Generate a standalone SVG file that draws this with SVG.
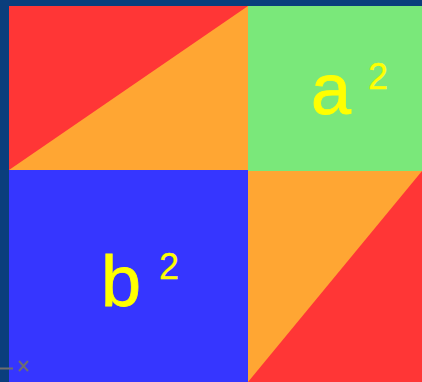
<svg xmlns="http://www.w3.org/2000/svg" width="422" height="382" viewBox="0 0 422 382">
<style>
.red{fill:#FF3636}
.orange{fill:#FFA633}
.green{fill:#7AE87A}
.blue{fill:#3636FF}
.lbl{font-family:"Liberation Sans",Arial,sans-serif;fill:#FFFF00;stroke:#FFFF00;stroke-width:0.8}
.sup{font-family:"Liberation Sans",Arial,sans-serif;fill:#FFFF00;stroke:#FFFF00;stroke-width:0.3}
</style>
<rect x="0" y="0" width="422" height="382" fill="#0A3E7C"/>
<g id="top-left">
<rect class="orange" x="9" y="6" width="239" height="164"/>
<polygon class="red" points="9,6 248,6 9,170"/>
</g>
<g id="a-square">
<rect class="green" x="248" y="6" width="174" height="165"/>
<text class="lbl" x="311" y="114" font-size="72">a</text>
<text class="sup" x="368" y="89" font-size="36">2</text>
</g>
<g id="b-square">
<rect class="blue" x="9" y="170" width="239" height="212"/>
<text class="lbl" x="101" y="306" font-size="72">b</text>
<text class="sup" x="159" y="279" font-size="36">2</text>
</g>
<g id="bottom-right">
<rect class="orange" x="248" y="171" width="174" height="211"/>
<polygon class="red" points="422,171 422,382 248,382"/>
</g>
<g id="icon" stroke="#6E6E70" stroke-width="2">
<line x1="0" y1="368.5" x2="13" y2="368.5"/>
<line x1="19" y1="361" x2="28" y2="371"/>
<line x1="28" y1="361" x2="19" y2="371"/>
</g>
</svg>
